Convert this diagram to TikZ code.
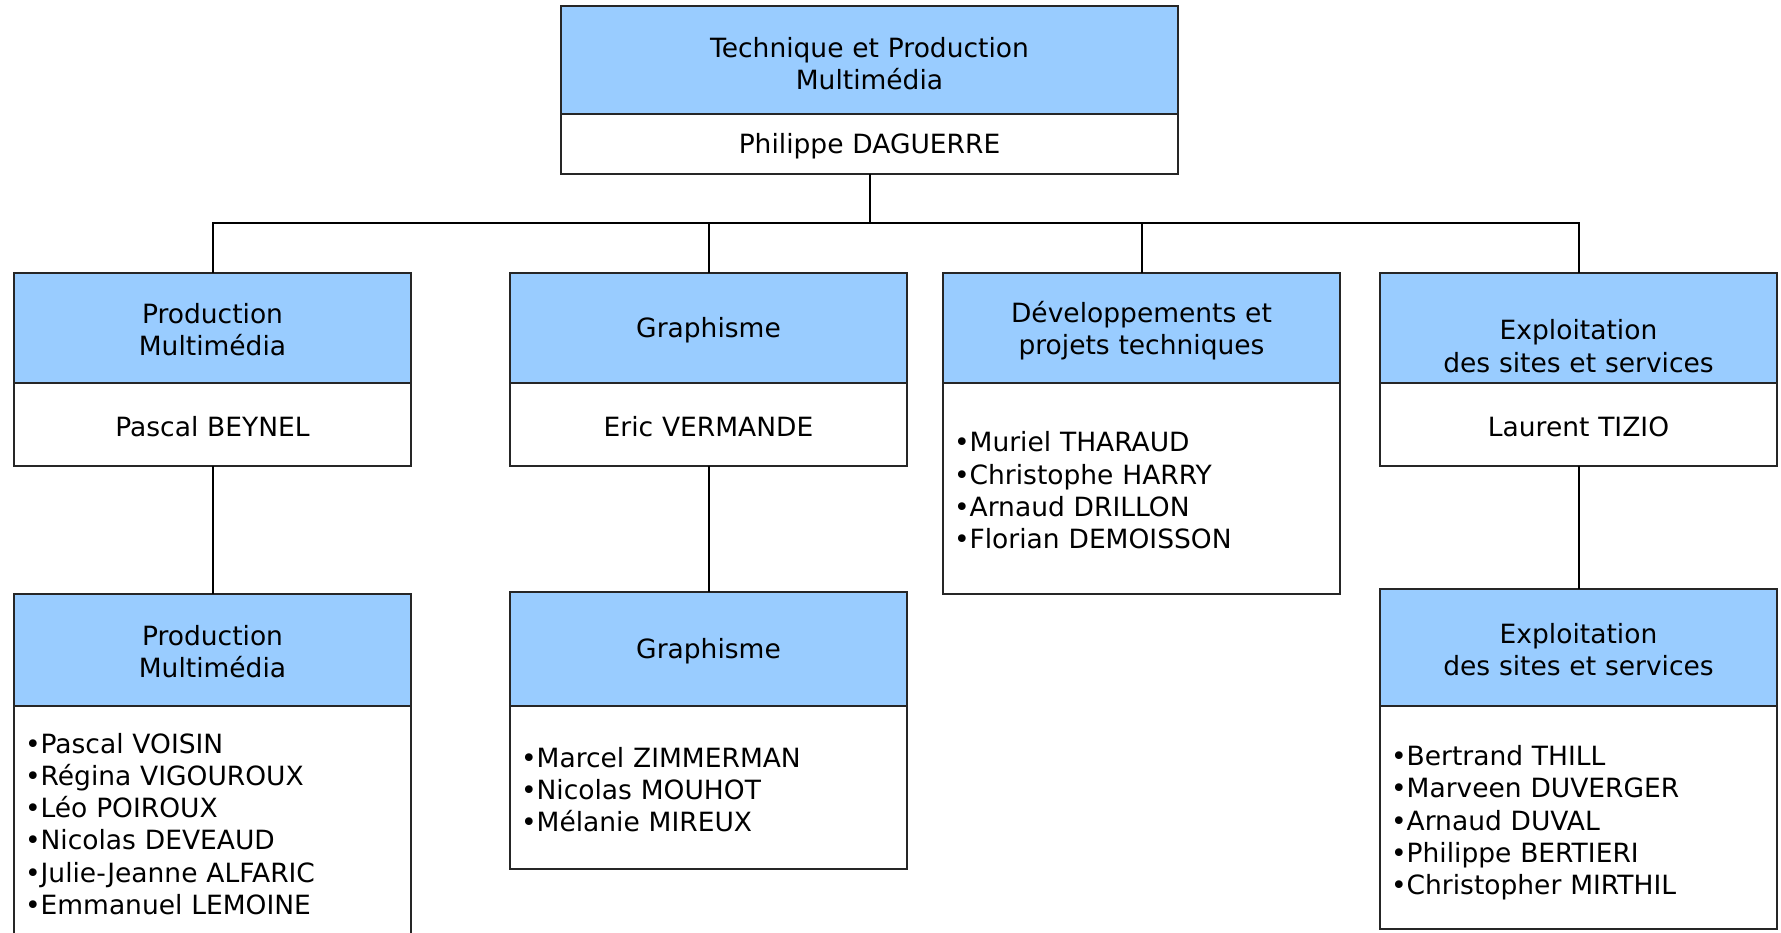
\documentclass[tikz,border=0pt]{standalone}
\usepackage{fontspec}
\setmainfont{DejaVu Sans}
\usetikzlibrary{positioning}
\definecolor{hdrblue}{HTML}{99CCFF}

\begin{document}
\begin{tikzpicture}[
  x=1pt, y=-1pt,
  font=\fontsize{26.5}{32.3}\selectfont,
  hdr/.style={rectangle, draw=black!85, line width=1.3pt, fill=hdrblue,
              text width=375pt, inner xsep=11pt, inner ysep=0pt, outer sep=0pt,
              text height=24pt, align=center, anchor=north west},
  body/.style={rectangle, draw=black!85, line width=1.3pt, fill=white,
              text width=375pt, inner xsep=11pt, inner ysep=0pt, outer sep=0pt,
              text height=24pt, align=center},
  list/.style={align=left},
  link/.style={draw=black, line width=2pt},
]
\clip (0,0) rectangle (1781,933);

% Top: direction
\node[hdr, text width=595pt, text height=27pt, minimum height=108pt] (tpHead) at (561,6) {Technique et Production\\Multimédia};
\node[body, text width=595pt, minimum height=60pt, below=0pt of tpHead] (tpBody) {Philippe DAGUERRE};

% Level 2
\node[hdr, minimum height=110pt] (prodHead) at (14,273) {Production\\Multimédia};
\node[body, minimum height=83pt, below=0pt of prodHead] (prodBody) {Pascal BEYNEL};

\node[hdr, minimum height=110pt] (graphHead) at (510,273) {Graphisme};
\node[body, minimum height=83pt, below=0pt of graphHead] (graphBody) {Eric VERMANDE};

\node[hdr, text height=26pt, minimum height=110pt] (devHead) at (943,273) {Développements et\\projets techniques};
\node[body, list, minimum height=211pt, below=0pt of devHead] (devBody) {•Muriel THARAUD\\•Christophe HARRY\\•Arnaud DRILLON\\•Florian DEMOISSON};

\node[hdr, minimum height=110pt] (expHead) at (1380,273) {\strut\\Exploitation\\des sites et services};
\node[body, minimum height=83pt, below=0pt of expHead] (expBody) {Laurent TIZIO};

% Level 3
\node[hdr, minimum height=112pt] (prodTeamHead) at (14,594) {Production\\Multimédia};
\node[body, list, minimum height=232pt, below=0pt of prodTeamHead] (prodTeamBody) {•Pascal VOISIN\\•Régina VIGOUROUX\\•Léo POIROUX\\•Nicolas DEVEAUD\\•Julie-Jeanne ALFARIC\\•Emmanuel LEMOINE};

\node[hdr, minimum height=114pt] (graphTeamHead) at (510,592) {Graphisme};
\node[body, list, minimum height=163pt, below=0pt of graphTeamHead] (graphTeamBody) {•Marcel ZIMMERMAN\\•Nicolas MOUHOT\\•Mélanie MIREUX};

\node[hdr, minimum height=117pt] (expTeamHead) at (1380,589) {Exploitation\\des sites et services};
\node[body, list, text height=31pt, minimum height=223pt, below=0pt of expTeamHead] (expTeamBody) {•Bertrand THILL\\•Marveen DUVERGER\\•Arnaud DUVAL\\•Philippe BERTIERI\\•Christopher MIRTHIL};

% Connectors
\coordinate (bus) at ([yshift=-49pt]tpBody.south);
\draw[link] (tpBody.south) -- (bus);
\foreach \n in {prodHead, graphHead, devHead, expHead}
  \draw[link] (bus) -| (\n.north);
\draw[link] (prodBody.south) -- (prodTeamHead.north);
\draw[link] (graphBody.south) -- (graphTeamHead.north);
\draw[link] (expBody.south) -- (expTeamHead.north);

\end{tikzpicture}
\end{document}
